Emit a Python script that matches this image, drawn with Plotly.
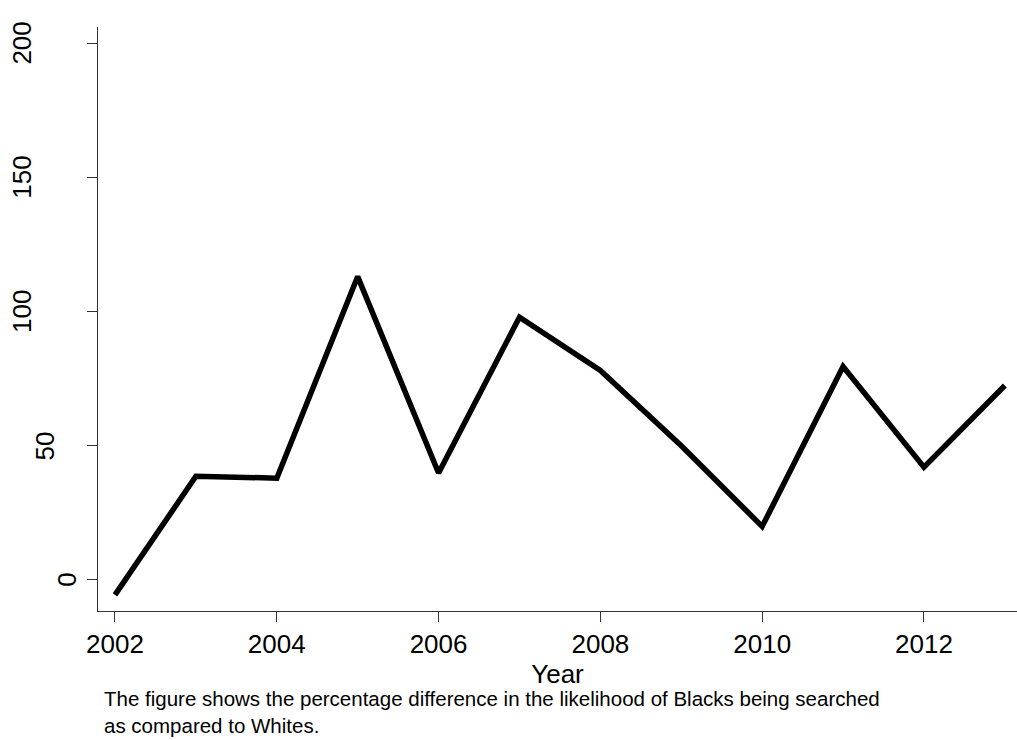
import plotly.graph_objects as go

years = [2002, 2003, 2004, 2005, 2006, 2007, 2008, 2009, 2010, 2011, 2012, 2013]
pct_diff = [-5.6, 38.6, 37.9, 113.0, 39.8, 97.9, 78.0, 50.0, 19.9, 79.5, 42.0, 72.4]
x_ticks = [2002, 2004, 2006, 2008, 2010, 2012]
y_ticks = [0, 50, 100, 150, 200]
caption = ("The figure shows the percentage difference in the likelihood of Blacks being searched<br>"
           "as compared to Whites.")

W, H = 1017, 740
ml, mr, mt, mb = 98, 0, 27, 129
pw, ph = W - ml - mr, H - mt - mb

def px_x(p):
    return (p - ml) / pw

def px_y(p):
    return (H - mb - p) / ph

fig = go.Figure()
fig.add_trace(go.Scatter(x=years, y=pct_diff, mode="lines",
                         line=dict(color="black", width=5.5), showlegend=False))

font = "Liberation Sans, Arial, sans-serif"
fig.update_layout(
    width=W, height=H,
    margin=dict(l=ml, r=mr, t=mt, b=mb),
    paper_bgcolor="white", plot_bgcolor="white",
    font=dict(family=font, color="black"),
    xaxis=dict(range=[2001.79, 2013.15], tickvals=x_ticks, ticks="outside", ticklen=10,
               tickwidth=1, tickcolor="#333", showline=True, linecolor="#333", linewidth=1,
               showgrid=False, zeroline=False, tickfont=dict(size=26),
               title=dict(text="Year", font=dict(size=26), standoff=0)),
    yaxis=dict(range=[-11.6, 206], tickvals=y_ticks, ticks="outside", ticklen=10,
               tickwidth=1, tickcolor="#333", showline=True, linecolor="#333", linewidth=1,
               showgrid=False, zeroline=False, showticklabels=False),
)

# rotated y tick labels (Stata-style placement: shifted by label length)
for v in y_ticks:
    lab = str(v)
    cx = 22.5 + (3 - len(lab)) * 22.2
    fig.add_annotation(text=lab, xref="paper", yref="y", x=px_x(cx), y=v,
                       xanchor="center", yanchor="middle", textangle=-90,
                       showarrow=False, font=dict(size=26, family=font, color="black"))

fig.add_annotation(text=caption, xref="paper", yref="paper",
                   x=px_x(102), y=px_y(739), xanchor="left", yanchor="bottom",
                   align="left", showarrow=False,
                   font=dict(size=20.5, family=font, color="black"))

fig.write_html("out.html", config={"displayModeBar": False},
               post_script="document.body.style.margin='0';document.body.style.overflow='hidden';")
